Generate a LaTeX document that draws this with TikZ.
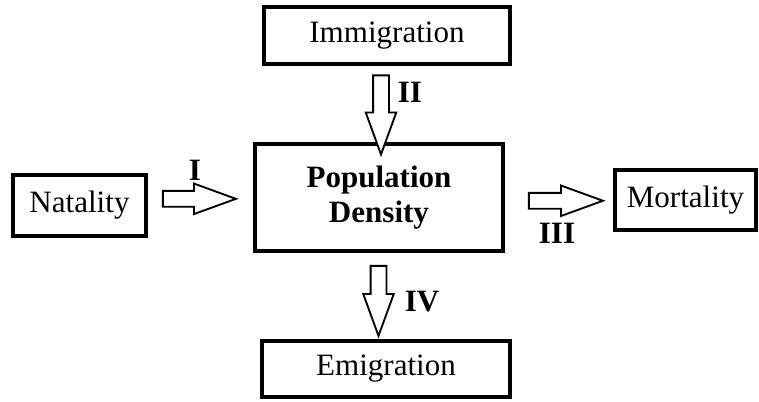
\documentclass[tikz,border=0pt]{standalone}
\usepackage{fontspec}
\setmainfont{Liberation Serif}
\usetikzlibrary{shapes.arrows,calc}

\begin{document}
\begin{tikzpicture}[
  popbox/.style={draw=black, line width=2.6pt, inner sep=0pt, align=center,
                 font=\fontsize{26.5}{30}\selectfont},
  fatarrow/.style={single arrow, draw=black, line width=1.6pt, fill=white,
                   inner sep=0.21cm, single arrow head extend=0.22cm,
                   single arrow tip angle=40, minimum height=#1},
  steplabel/.style={font=\fontsize{26.5}{30}\selectfont\bfseries}
]
\useasboundingbox (0,0) rectangle (22.77,-12.03);

% Boxes
\node[popbox, minimum width=7.38cm, minimum height=1.71cm] (imm) at (11.61,-1.065) {Immigration};
\node[popbox, minimum width=7.44cm, minimum height=3.21cm, font=\fontsize{26.5}{30}\selectfont\bfseries] (pd) at (11.37,-5.925)
  {Population\\Density};
\node[popbox, minimum width=3.99cm, minimum height=1.83cm] (nat) at (2.385,-6.165) {Natality};
\node[popbox, minimum width=4.23cm, minimum height=1.8cm] (mort) at (20.565,-6.0) {Mortality};
\node[popbox, minimum width=7.44cm, minimum height=1.68cm] (emi) at (11.58,-11.07) {Emigration};

% Arrows
\node[fatarrow=2.19cm] (arrI) at ($(nat.east)!0.5!(pd.west)+(-0.36,0.08)$) {};
\node[fatarrow=2.37cm, shape border rotate=270] (arrII) at ($(imm.south)!0.5!(pd.north)+(-0.06,0)$) {};
\node[fatarrow=2.22cm] (arrIII) at ($(pd.east)!0.5!(mort.west)+(-0.12,-0.06)$) {};
\node[fatarrow=2.1cm, shape border rotate=270] (arrIV) at ($(pd.south)!0.5!(emi.north)+(-0.12,0.18)$) {};

% Labels
\node[steplabel] (labI) at (5.85,-5.1) {I};
\node[steplabel] (labII) at (12.3,-2.76) {II};
\node[steplabel] (labIII) at (16.71,-6.99) {III};
\node[steplabel] (labIV) at (12.66,-9.06) {IV};

\end{tikzpicture}
\end{document}
